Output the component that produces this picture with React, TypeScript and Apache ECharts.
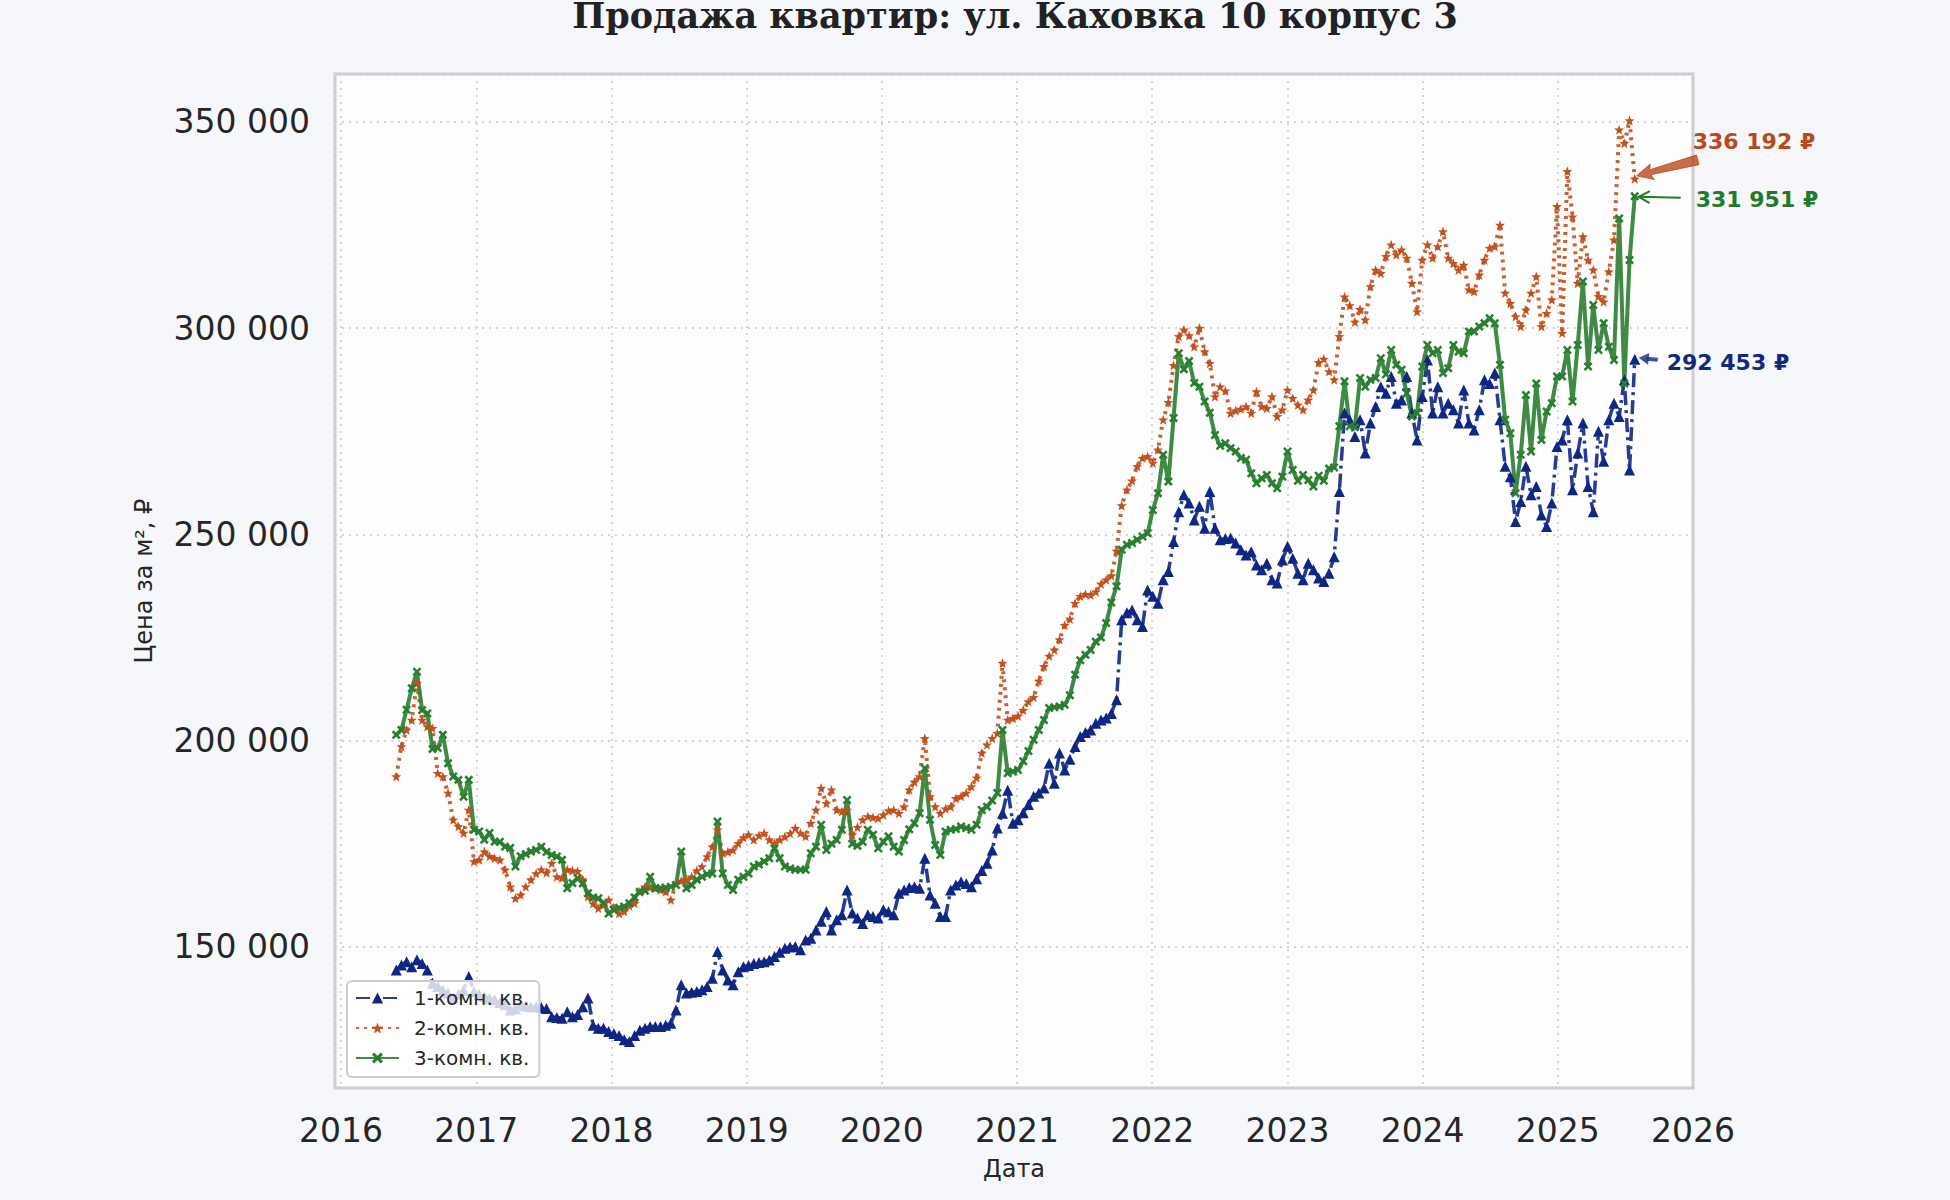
import React, { useEffect, useRef } from 'react';
import * as echarts from 'echarts';

// one snapshot every 14 days, starting 2016-05-29
const START_DATE = Date.UTC(2016, 4, 29);
const STEP_DAYS = 14;

const seriesNames = ['1-комн. кв.', '2-комн. кв.', '3-комн. кв.'];

// price per m², thousand ₽
const oneRoom = [
  144.4, 145.6, 146.4, 145.2, 146.9, 146.0, 144.4, 141.2, 140.4, 139.5, 138.8, 137.6, 138.5, 139.5, 142.8, 139.2,
  138.5, 138.0, 137.5, 137.2, 136.5, 136.0, 134.7, 135.0, 135.9, 135.7, 135.5, 135.5, 135.3, 135.1, 133.1, 132.9, 132.7, 134.3, 133.1, 133.6, 135.5, 137.6, 131.0, 130.3, 130.3, 129.5,
  129.0, 128.5, 127.5, 127.1, 128.5, 129.8, 130.3, 130.7, 130.7, 130.7, 131.0, 131.5, 134.7, 140.8, 138.8, 139.0, 139.2, 139.6, 140.4, 142.4, 148.9, 144.4, 142.0, 140.8, 144.0, 145.2,
  145.5, 146.0, 146.2, 146.4, 146.8, 147.7, 148.7, 149.7, 150.0, 150.1, 149.3, 151.7, 152.1, 154.1, 156.2, 158.6, 154.1, 156.6, 157.8, 163.8, 158.2, 157.0, 155.7, 157.8, 157.4, 157.0,
  159.0, 158.5, 157.8, 163.0, 163.8, 164.4, 164.6, 164.2, 171.5, 162.6, 160.6, 157.4, 157.4, 163.8, 165.0, 165.8, 165.4, 164.6, 166.5, 168.5, 170.3, 173.5, 178.8, 182.4, 188.0, 180.0,
  180.8, 182.5, 184.5, 186.5, 187.3, 188.5, 194.5, 189.7, 197.0, 192.9, 195.5, 198.6, 201.0, 202.0, 202.6, 204.2, 205.0, 205.5, 206.6, 209.9, 229.3, 231.0, 231.7, 229.3, 227.7, 236.5,
  235.0, 233.3, 239.0, 241.0, 248.3, 255.5, 259.6, 257.6, 253.5, 256.8, 251.5, 260.4, 251.5, 248.7, 249.0, 249.1, 247.9, 246.3, 245.0, 245.8, 242.6, 241.4, 243.0, 239.0, 238.2, 243.8,
  247.1, 244.2, 240.6, 239.0, 243.0, 241.4, 239.4, 238.6, 240.6, 244.6, 260.4, 279.4, 277.8, 273.7, 277.8, 269.7, 277.0, 281.0, 285.8, 284.2, 288.3, 281.8, 282.6, 288.3, 279.4, 272.9,
  283.4, 292.3, 279.4, 285.8, 279.4, 281.8, 280.2, 277.0, 285.0, 277.0, 275.3, 280.2, 287.5, 286.6, 289.1, 277.8, 266.5, 264.0, 253.1, 258.0, 266.5, 259.6, 261.6, 254.7, 251.9, 257.6,
  271.3, 272.9, 277.8, 260.8, 269.7, 277.0, 261.6, 255.5, 275.0, 267.7, 277.8, 281.8, 278.6, 287.5, 265.6, 292.453,
];

const twoRoom = [
  191.3, 198.6, 202.6, 205.0, 213.9, 205.0, 203.4, 203.0, 192.1, 191.3, 187.3, 180.8, 179.2, 177.6, 183.2, 170.7,
  171.1, 173.1, 172.0, 171.5, 171.1, 168.7, 164.6, 161.8, 162.6, 164.6, 166.3, 167.8, 168.7, 168.0, 170.3, 167.0, 166.7, 168.7, 168.5, 168.3, 166.3, 162.2, 160.5, 159.4, 160.2, 161.4,
  159.5, 158.1, 158.6, 160.0, 160.6, 163.4, 164.6, 164.4, 164.2, 163.8, 163.4, 161.4, 165.4, 166.0, 166.3, 167.0, 168.5, 169.5, 171.9, 174.3, 178.4, 172.7, 173.0, 173.5, 175.1, 176.5,
  177.2, 176.0, 177.0, 177.6, 176.0, 175.1, 176.0, 176.7, 177.5, 178.8, 177.6, 176.8, 180.0, 183.2, 188.5, 184.8, 188.1, 183.2, 182.8, 183.2, 177.2, 179.0, 180.8, 181.6, 181.4, 181.2,
  182.0, 183.0, 183.2, 182.4, 184.0, 188.1, 190.0, 191.3, 200.6, 186.5, 184.0, 182.4, 183.5, 184.0, 186.0, 186.5, 187.3, 188.9, 191.0, 197.0, 199.0, 200.6, 201.8, 218.8, 205.0, 205.4,
  206.0, 207.4, 209.5, 210.5, 214.5, 218.0, 220.5, 222.0, 224.5, 228.0, 229.5, 233.3, 235.0, 235.5, 235.3, 236.1, 238.0, 239.0, 240.0, 246.0, 257.0, 260.8, 263.0, 266.5, 268.5, 268.9,
  267.3, 270.5, 277.8, 282.0, 291.0, 298.0, 299.6, 298.2, 295.5, 300.0, 294.3, 291.5, 283.4, 285.8, 284.8, 279.4, 280.0, 280.4, 281.0, 279.4, 284.6, 281.0, 280.6, 283.4, 278.6, 280.2,
  285.0, 283.0, 281.4, 280.2, 282.6, 285.0, 291.7, 292.5, 289.5, 287.5, 298.0, 307.6, 305.5, 301.5, 304.6, 302.0, 310.1, 314.1, 313.3, 317.4, 320.2, 317.8, 319.0, 317.0, 310.9, 304.0,
  316.5, 320.2, 317.0, 319.8, 323.4, 317.0, 315.7, 314.1, 315.3, 309.3, 308.9, 312.9, 316.5, 319.4, 319.8, 325.0, 308.5, 306.0, 302.8, 300.4, 304.4, 308.5, 312.5, 300.4, 303.6, 306.9,
  329.5, 298.8, 338.0, 327.0, 310.9, 322.2, 316.5, 314.1, 307.7, 306.4, 313.7, 321.4, 348.1, 344.8, 350.3, 336.192,
];

const threeRoom = [
  201.4, 202.6, 207.5, 212.7, 216.7, 207.4, 206.6, 198.0, 198.2, 201.4, 194.5, 191.3, 190.5, 186.4, 190.5, 178.4,
  178.0, 176.0, 177.6, 175.5, 175.5, 174.3, 174.0, 169.5, 172.0, 172.5, 173.1, 173.5, 174.3, 173.0, 172.3, 171.9, 171.1, 164.2, 165.5, 166.7, 165.4, 163.0, 162.0, 161.8, 160.6, 158.1,
  159.0, 159.5, 159.8, 160.6, 162.0, 163.4, 163.6, 167.0, 164.2, 164.2, 164.4, 164.6, 165.0, 173.1, 164.2, 165.0, 166.3, 167.0, 167.6, 167.8, 180.4, 167.8, 165.0, 163.8, 166.3, 167.0,
  167.8, 169.5, 170.0, 170.7, 171.5, 173.9, 171.5, 169.5, 169.0, 168.7, 168.7, 168.7, 172.7, 174.3, 179.6, 173.5, 175.0, 175.9, 178.4, 185.6, 175.0, 174.5, 175.5, 178.4, 177.2, 173.9,
  175.5, 176.8, 174.3, 173.1, 175.9, 178.5, 180.0, 182.4, 193.3, 180.8, 174.7, 172.3, 178.0, 178.4, 178.6, 179.2, 178.8, 178.4, 179.6, 183.2, 184.0, 185.5, 187.3, 202.6, 192.1, 192.5,
  192.9, 195.0, 197.5, 200.2, 202.6, 205.0, 207.9, 208.1, 208.3, 208.7, 211.0, 216.0, 219.5, 220.8, 222.0, 224.0, 225.0, 228.5, 233.5, 237.4, 246.3, 247.5, 247.9, 248.7, 249.5, 250.3,
  255.9, 260.0, 269.3, 262.8, 278.2, 293.9, 290.0, 292.0, 286.7, 285.8, 282.2, 279.5, 274.1, 271.5, 272.1, 270.9, 270.1, 268.5, 268.1, 264.8, 262.4, 263.6, 264.4, 262.4, 261.2, 264.0,
  270.1, 265.6, 263.0, 264.4, 263.2, 261.6, 264.2, 263.0, 266.0, 266.2, 276.2, 287.1, 276.2, 276.0, 287.9, 285.8, 287.5, 287.9, 292.7, 288.8, 294.7, 291.1, 289.9, 284.2, 278.6, 279.4,
  290.7, 295.9, 293.9, 294.7, 289.1, 290.3, 295.9, 294.3, 293.9, 299.2, 299.2, 300.4, 301.2, 302.4, 301.2, 291.1, 277.8, 274.5, 260.0, 269.3, 283.8, 270.1, 286.6, 272.9, 279.8, 281.8,
  288.3, 288.3, 294.7, 282.2, 295.9, 311.3, 290.7, 305.6, 294.7, 301.2, 295.5, 292.3, 326.6, 286.6, 316.5, 331.951,
];

const BLUE = '#0e2784';
const ORANGE = '#c2511d';
const GREEN = '#2a7e30';
const TEXT = '#262626';
const FONT = 'DejaVu Sans';

const DAY = 86400000;
const YEAR0 = Date.UTC(2016, 0, 1);
const toYear = (i: number) => 2016 + (START_DATE + i * STEP_DAYS * DAY - YEAR0) / (365.2425 * DAY);

const fmtRub = (v: number) => String(Math.round(v * 1000)).replace(/\B(?=(\d{3})+(?!\d))/g, ' ');

const STAR = 'path://M0,-10L2.4,-3.3L9.5,-3.1L3.9,1.3L5.9,8.1L0,4.1L-5.9,8.1L-3.9,1.3L-9.5,-3.1L-2.4,-3.3Z';
const CROSS = 'path://M-10,-6L-6,-10L0,-4L6,-10L10,-6L4,0L10,6L6,10L0,4L-6,10L-10,6L-4,0Z';

const makeSeries = (
  name: string,
  values: number[],
  color: string,
  symbol: string,
  symbolSize: number,
  lineType: any,
  width: number
) => ({
  name,
  type: 'line',
  data: values.map((v, i) => [toYear(i), v]),
  symbol,
  symbolSize,
  showAllSymbol: true,
  lineStyle: { color, width, type: lineType, opacity: 0.9 },
  itemStyle: { color },
  emphasis: { disabled: true },
});

type Pt = [number, number];

// arrow from the label towards the last point
function arrow(kind: string, tail: Pt, tip: Pt, color: string): any[] {
  const dx = tip[0] - tail[0];
  const dy = tip[1] - tail[1];
  const len = Math.hypot(dx, dy);
  const u = [dx / len, dy / len];
  const n = [-u[1], u[0]];
  const at = (along: number, side: number): Pt => [
    tip[0] - u[0] * along + n[0] * side,
    tip[1] - u[1] * along + n[1] * side,
  ];
  if (kind === 'wedge') {
    return [{
      type: 'polygon', z: 100,
      shape: { points: [at(len, 5), at(14, 2.5), at(16, 8), tip, at(16, -8), at(14, -2.5), at(len, -5)] },
      style: { fill: color, opacity: 0.8, stroke: color, lineWidth: 1 },
    }];
  }
  if (kind === 'open') {
    return [
      { type: 'line', z: 100, shape: { x1: tail[0], y1: tail[1], x2: tip[0], y2: tip[1] }, style: { stroke: color, lineWidth: 2 } },
      { type: 'polyline', z: 100, shape: { points: [at(11, 6), tip, at(11, -6)] }, style: { stroke: color, lineWidth: 2, fill: null } },
    ];
  }
  const base = at(8, 0);
  return [
    { type: 'line', z: 100, shape: { x1: tail[0], y1: tail[1], x2: base[0], y2: base[1] }, style: { stroke: color, lineWidth: 4, opacity: 0.8 } },
    { type: 'polygon', z: 100, shape: { points: [tip, at(10, 6), at(10, -6)] }, style: { fill: color, opacity: 0.8 } },
  ];
}

const App: React.FC = () => {
  const chartRef = useRef<HTMLDivElement>(null);

  useEffect(() => {
    if (!chartRef.current) return;
    const chart = echarts.init(chartRef.current, undefined, { renderer: 'svg' });

    const option = {
      animation: false,
      backgroundColor: '#f6f7fb',
      textStyle: { fontFamily: FONT },
      grid: {
        left: 335, right: 257, top: 74, bottom: 112,
        show: true, backgroundColor: '#fdfdfe', borderColor: '#cccccc', borderWidth: 3,
      },
      legend: {
        orient: 'vertical',
        left: 347,
        top: 981,
        data: seriesNames,
        itemWidth: 43,
        itemHeight: 14,
        itemGap: 8,
        padding: [6, 10, 8, 8],
        backgroundColor: 'rgba(255,255,255,0.8)',
        borderColor: '#cccccc',
        borderWidth: 2,
        borderRadius: 5,
        textStyle: { fontSize: 20, color: TEXT, fontFamily: FONT, lineHeight: 22, padding: [0, 0, 0, 10] },
      },
      xAxis: {
        type: 'value',
        min: 2015.955,
        max: 2026,
        splitNumber: 10,
        axisLine: { show: false },
        axisTick: { show: false },
        axisLabel: {
          fontSize: 33, color: TEXT, fontFamily: FONT, margin: 26, showMinLabel: false,
          formatter: (v: number) => String(Math.round(v)),
        },
        splitLine: { show: true, lineStyle: { color: '#d4d4d4', width: 2, type: [2, 5] } },
        name: 'Дата',
        nameLocation: 'middle',
        nameGap: 69,
        nameTextStyle: { fontSize: 24, color: TEXT, fontFamily: FONT },
      },
      yAxis: {
        type: 'value',
        min: 115.8,
        max: 361.6,
        splitNumber: 5,
        axisLine: { show: false },
        axisTick: { show: false },
        axisLabel: {
          fontSize: 33, color: TEXT, fontFamily: FONT, margin: 25,
          showMinLabel: false, showMaxLabel: false, formatter: fmtRub,
        },
        splitLine: { show: true, lineStyle: { color: '#d4d4d4', width: 2, type: [2, 5] } },
        name: 'Цена за м², ₽',
        nameLocation: 'middle',
        nameGap: 179,
        nameTextStyle: { fontSize: 24, color: TEXT, fontFamily: FONT },
      },
      series: [
        makeSeries(seriesNames[0], oneRoom, BLUE, 'triangle', 11, [14, 5, 3, 5], 3.5),
        makeSeries(seriesNames[1], twoRoom, ORANGE, STAR, 10, [3, 5], 4),
        makeSeries(seriesNames[2], threeRoom, GREEN, CROSS, 9, 'solid', 4),
      ],
    };

    chart.setOption(option);

    // labels for the latest values, placed relative to the last points
    const lastX = toYear(oneRoom.length - 1);
    const notes = [
      { values: twoRoom, idx: 1, color: '#b9481a', kind: 'wedge', text: [58, -37], tail: [63, -19], tip: [2, -3] },
      { values: threeRoom, idx: 2, color: '#1f7a2a', kind: 'open', text: [61, 3.5], tail: [46, 1.5], tip: [4, 0.5] },
      { values: oneRoom, idx: 0, color: '#10297f', kind: 'filled', text: [32, 3.6], tail: [23, 0.6], tip: [4, -1.4] },
    ];
    const elements: any[] = [
      {
        type: 'text', z: 100,
        style: {
          text: 'Продажа квартир: ул. Каховка 10 корпус 3',
          x: 1015, y: 15, align: 'center', verticalAlign: 'middle',
          fontSize: 35, fontWeight: 'bold', fontFamily: 'DejaVu Serif', fill: '#222222',
        },
      },
    ];
    notes.forEach((note) => {
      const last = note.values[note.values.length - 1];
      const p = chart.convertToPixel({ seriesIndex: note.idx }, [lastX, last]) as number[];
      const off = (d: number[]): Pt => [p[0] + d[0], p[1] + d[1]];
      elements.push(...arrow(note.kind, off(note.tail), off(note.tip), note.color));
      const tp = off(note.text);
      elements.push({
        type: 'text', z: 100,
        style: {
          text: `${fmtRub(last)} ₽`, x: tp[0], y: tp[1], align: 'left', verticalAlign: 'middle',
          fontSize: 22, fontWeight: 'bold', fontFamily: FONT, fill: note.color,
        },
      });
    });
    chart.setOption({ graphic: { elements } });

    return () => {
      chart.dispose();
    };
  }, []);

  return (
    <div
      ref={chartRef}
      style={{ position: 'absolute', left: 0, top: 0, width: '1950px', height: '1200px' }}
    />
  );
};

export default App;
